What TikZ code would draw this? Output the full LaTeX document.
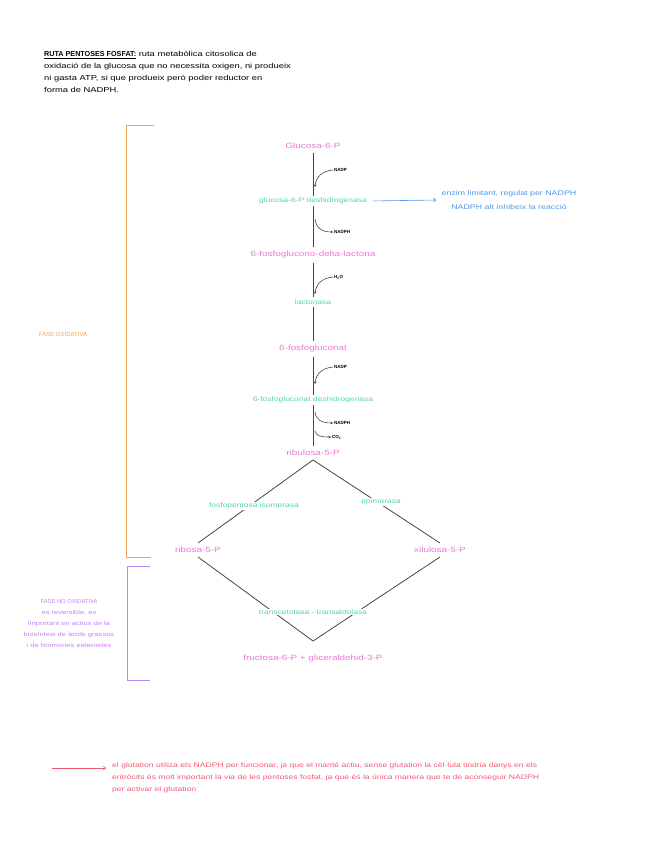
\documentclass[tikz,border=0pt]{standalone}
\usepackage{fontspec}
\setmainfont{Liberation Sans}[FakeStretch=1.3]
\newfontfamily\capsfont{Liberation Sans}
\usetikzlibrary{positioning,arrows.meta}
\definecolor{rutaPink}{RGB}{235,120,215}
\definecolor{rutaGreen}{RGB}{80,215,165}
\definecolor{rutaBlue}{RGB}{80,150,230}
\definecolor{rutaOrange}{RGB}{245,165,85}
\definecolor{rutaPurple}{RGB}{195,130,240}
\definecolor{rutaRed}{RGB}{240,90,115}
\definecolor{rutaAxis}{RGB}{70,70,70}

\begin{document}
\begin{tikzpicture}[
    x=1pt, y=-1pt,
    metab/.style={text=rutaPink, font=\fontsize{7.6}{9}\selectfont, inner sep=4pt},
    enzim/.style={text=rutaGreen, font=\fontsize{6.5}{8}\selectfont, inner sep=2pt},
    onlabel/.style={enzim, fill=white, inner sep=1pt},
    cofac/.style={font=\capsfont\bfseries\fontsize{4.5}{5}\selectfont, inner sep=1pt, anchor=west},
    axis/.style={draw=rutaAxis, line width=1pt},
    branch/.style={draw=rutaAxis, line width=0.8pt},
    sidearr/.style={draw=rutaAxis, line width=0.6pt, -{Stealth[length=2.5pt,width=2.5pt]}},
    notearr/.style={line width=0.6pt, -{To[length=3pt,width=4pt]}}
]
\useasboundingbox (0,0) rectangle (656,848);

% title
\node[anchor=north west, align=left, inner sep=0pt,
    font=\fontsize{7.2}{12}\selectfont] (titol) at (44,51) {%
    \underline{\textbf{\capsfont RUTA PENTOSES FOSFAT:}} ruta metabòlica citosolica de\\
    oxidació de la glucosa que no necessita oxigen, ni produeix\\
    ni gasta ATP, si que produeix però poder reductor en\\
    forma de NADPH.};

% fase oxidativa
\node[metab] (g6p) at (313,146) {Glucosa-6-P};
\node[enzim] (g6pdh) at (313,201) {glucosa-6-P deshidrogenasa};
\node[metab] (lacto) at (313,255) {6-fosfoglucono-delta-lactona};
\node[enzim] (lactonasa) at (313,302) {lactonasa};
\node[metab] (fgluc) at (313,349) {6-fosfogluconat};
\node[enzim] (fgdh) at (313,400) {6-fosfogluconat deshidrogenasa};
\node[metab] (rib5p) at (313,453) {ribulosa-5-P};

\draw[axis] (g6p) -- (g6pdh) -- (lacto) -- (lactonasa) -- (fgluc) -- (fgdh) -- (rib5p);

% cofactors
\node[cofac] (nadpA) at (333,170) {NADP};
\node[cofac] (nadphA) at (333,232) {NADPH};
\node[cofac] (aigua) at (333,277) {H\textsubscript{2}O};
\node[cofac] (nadpB) at (333,367) {NADP};
\node[cofac] (nadphB) at (333,423) {NADPH};
\node[cofac] (co2) at (331,437) {CO\textsubscript{2}};

\coordinate (inA) at (315,187);
\coordinate (outA) at (315,219);
\coordinate (inH) at (315,294);
\coordinate (inB) at (315,384);
\coordinate (outB) at (315,412);
\coordinate (outC) at (315,431);

\draw[sidearr] (nadpA.west) .. controls (322,171) and (316,177) .. (inA);
\draw[sidearr] (outA) .. controls (316,228) and (322,232) .. (nadphA.west);
\draw[sidearr] (aigua.west) .. controls (322,278) and (316,284) .. (inH);
\draw[sidearr] (nadpB.west) .. controls (322,368) and (316,374) .. (inB);
\draw[sidearr] (outB) .. controls (316,420) and (322,423) .. (nadphB.west);
\draw[sidearr] (outC) .. controls (316,436) and (321,437) .. (co2.west);

% enzim limitant
\node[text=rutaBlue, font=\fontsize{6.8}{14}\selectfont, align=center] (nota) at (509,200)
    {enzim limitant, regulat per NADPH\\NADPH alt inhibeix la reacció};
\draw[notearr, draw=rutaBlue, shorten <=4pt, shorten >=2pt] (g6pdh.east) -- (nota.west);

% fase no oxidativa
\node[metab] (ribosa) at (198,550) {ribosa-5-P};
\node[metab] (xilul) at (440,550) {xilulosa-5-P};
\node[metab] (fruct) at (313,659) {fructosa-6-P + gliceraldehid-3-P};
\coordinate (unio) at (313,641);

\draw[branch] (ribosa.north) -- (rib5p.south) -- (xilul.north);
\draw[branch] (ribosa.south) -- (unio) -- (xilul.south);

\node[onlabel] (isomer) at (254,506) {fosfopentosa isomerasa};
\node[onlabel] (epimer) at (381,502) {epimerasa};
\node[onlabel] (transc) at (313,612) {transcetolasa - transaldolasa};

% claus laterals
\draw[draw=rutaOrange, line width=0.8pt] (154,125) -- (126,125) -- (126,557) -- (151,557);
\node[text=rutaOrange, font=\capsfont\fontsize{6}{8}\selectfont] (oxid) at (63,334) {FASE OXIDATIVA};

\draw[draw=rutaPurple, line width=0.8pt] (150,566) -- (127,566) -- (127,680) -- (150,680);
\node[text=rutaPurple, font=\fontsize{5.8}{11}\selectfont, align=center] (noxid) at (69,623)
    {{\capsfont FASE NO OXIDATIVA}\\es reversible, es\\important en actius de la\\biosíntesi de àcids grassos\\i de hormones esteroides};

% glutatio
\coordinate (redIni) at (52,768);
\node[anchor=north west, align=left, inner sep=0pt, text=rutaRed,
    font=\fontsize{6.6}{12}\selectfont] (glut) at (112,762) {%
    el glutation utiliza els NADPH per funcionar, ja que el manté actiu, sense glutation la cèl·lula tindria danys en els\\
    eritròcits és molt important la via de les pentoses fosfat, ja que és la única manera que te de aconseguir NADPH\\
    per activar el glutation};
\draw[notearr, draw=rutaRed, shorten >=6pt] (redIni) -- (redIni -| glut.west);
\end{tikzpicture}
\end{document}
